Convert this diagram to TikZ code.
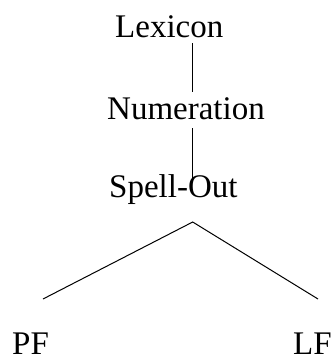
\documentclass[tikz,border=0pt]{standalone}
\usepackage{fontspec}
\setmainfont{Liberation Serif}
\begin{document}
\begin{tikzpicture}[x=1pt,y=-1pt,
  lbl/.style={inner sep=0pt,anchor=base west,font=\fontsize{33}{40}\selectfont},
  conn/.style={line width=1pt}]
\useasboundingbox (0,0) rectangle (332,356);
\node[lbl] (lex) at (115,37) {Lexicon};
\node[lbl] (num) at (107,119) {Numeration};
\node[lbl] (spell) at (109,197) {Spell-Out};
\node[lbl] (pf) at (12,354) {PF};
\node[lbl] (lf) at (293,354) {LF};
\coordinate (a1) at (192.7,43);
\coordinate (a2) at (192.7,92);
\coordinate (b1) at (192.7,128);
\coordinate (b2) at (192.7,178);
\coordinate (apex) at (192.7,222);
\coordinate (pfend) at (43,299);
\coordinate (lfend) at (318,299);
\draw[conn] (a1) -- (a2);
\draw[conn] (b1) -- (b2);
\draw[conn] (pfend) -- (apex) -- (lfend);
\end{tikzpicture}
\end{document}
